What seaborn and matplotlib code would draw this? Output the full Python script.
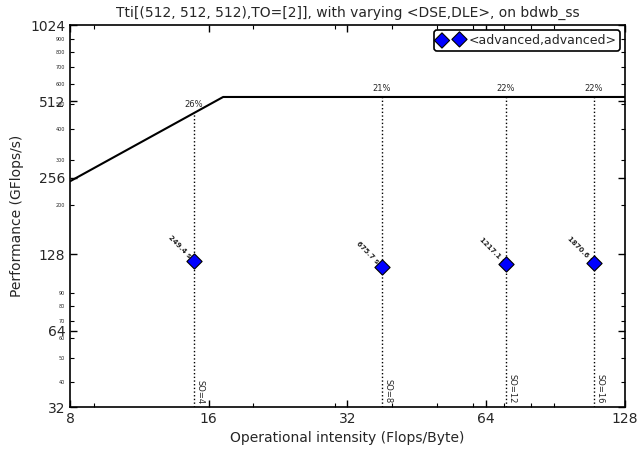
import seaborn as sns
import pandas as pd
import matplotlib.pyplot as plt
import numpy as np
from matplotlib.ticker import LogLocator, FixedLocator, NullFormatter, FuncFormatter

# roofline machine numbers
peak_gflops = 533.0
bandwidth = 31.0   # GB/s

# measured points
oi = [14.86, 38.0, 70.6, 109.7]
gflops = [120.3, 114.0, 117.0, 118.0]
times = ["249.4 s", "675.7 s", "1217.1 s", "1870.6 s"]
so_labels = ["SO=4", "SO=8", "SO=12", "SO=16"]
series_name = "<advanced,advanced>"

x_ticks = [8, 16, 32, 64, 128]
y_ticks = [32, 64, 128, 256, 512, 1024]

sns.set_style("ticks")
plt.rcParams["xtick.direction"] = "in"
plt.rcParams["ytick.direction"] = "in"
plt.rcParams["xtick.top"] = True
plt.rcParams["ytick.right"] = True

fig = plt.figure(figsize=(6.38, 4.49), dpi=100)
ax = fig.add_axes([0.1097, 0.0935, 0.8699, 0.8508])

# roofline
knee = peak_gflops / bandwidth
roof_x = [x_ticks[0], knee, x_ticks[-1]]
roof = pd.DataFrame({"oi": roof_x, "perf": [min(peak_gflops, bandwidth * v) for v in roof_x]})
sns.lineplot(data=roof, x="oi", y="perf", color="black", linewidth=1.5, ax=ax)

pts = pd.DataFrame({"oi": oi, "perf": gflops})
for i, row in pts.iterrows():
    top = min(peak_gflops, bandwidth * row["oi"])
    ax.vlines(row["oi"], y_ticks[0], top, colors="black", linestyles=":", linewidth=1)
    ax.annotate("%d%%" % round(100 * row["perf"] / top), (row["oi"], top),
                xytext=(0, 3), textcoords="offset points", ha="center", va="bottom", fontsize=6)
    ax.annotate(so_labels[i], (row["oi"], 33), xytext=(1, 0), textcoords="offset points",
                ha="left", va="bottom", rotation=-90, fontsize=6)
    ax.annotate(times[i], (row["oi"], row["perf"]), xytext=(-10, 10), textcoords="offset points",
                ha="center", va="center", rotation=-45, fontsize=5, fontweight="bold", zorder=2)

sns.scatterplot(data=pts, x="oi", y="perf", marker="D", s=60, color="blue",
                edgecolor="black", linewidth=0.8, label=series_name, zorder=5, ax=ax)

ax.set_xscale("log", base=2)
ax.set_yscale("log", base=2)
ax.set_xlim(x_ticks[0], x_ticks[-1])
ax.set_ylim(y_ticks[0], y_ticks[-1])
ax.xaxis.set_major_locator(FixedLocator(x_ticks))
ax.xaxis.set_major_formatter(FuncFormatter(lambda v, p: "%d" % v))
ax.yaxis.set_major_locator(FixedLocator(y_ticks))
ax.yaxis.set_major_formatter(FuncFormatter(lambda v, p: "%d" % v))
ax.xaxis.set_minor_locator(LogLocator(base=10, subs=np.arange(2, 10)))
ax.xaxis.set_minor_formatter(NullFormatter())
ax.yaxis.set_minor_locator(LogLocator(base=10, subs=np.arange(2, 10)))
ax.yaxis.set_minor_formatter(FuncFormatter(lambda v, p: "%d" % round(v)))
ax.tick_params(which="major", length=5, width=1, labelsize=10, color="black")
ax.tick_params(which="minor", length=3, width=0.8, color="black")
ax.tick_params(axis="y", which="minor", labelsize=3.5)
for s in ax.spines.values():
    s.set_linewidth(1.2)
    s.set_color("black")

ax.set_xlabel("Operational intensity (Flops/Byte)", fontsize=10)
ax.set_ylabel("Performance (GFlops/s)", fontsize=10)
ax.set_title("Tti[(512, 512, 512),TO=[2]], with varying <DSE,DLE>, on bdwb_ss", fontsize=10)

leg = ax.legend(loc="upper right", scatterpoints=2, fontsize=9, frameon=True, fancybox=True,
                borderaxespad=0.4, handletextpad=0.4, borderpad=0.3)
leg.get_frame().set_edgecolor("black")
leg.get_frame().set_linewidth(1.2)
leg.get_frame().set_alpha(1)

plt.savefig("out.png", dpi=100)
plt.close()
